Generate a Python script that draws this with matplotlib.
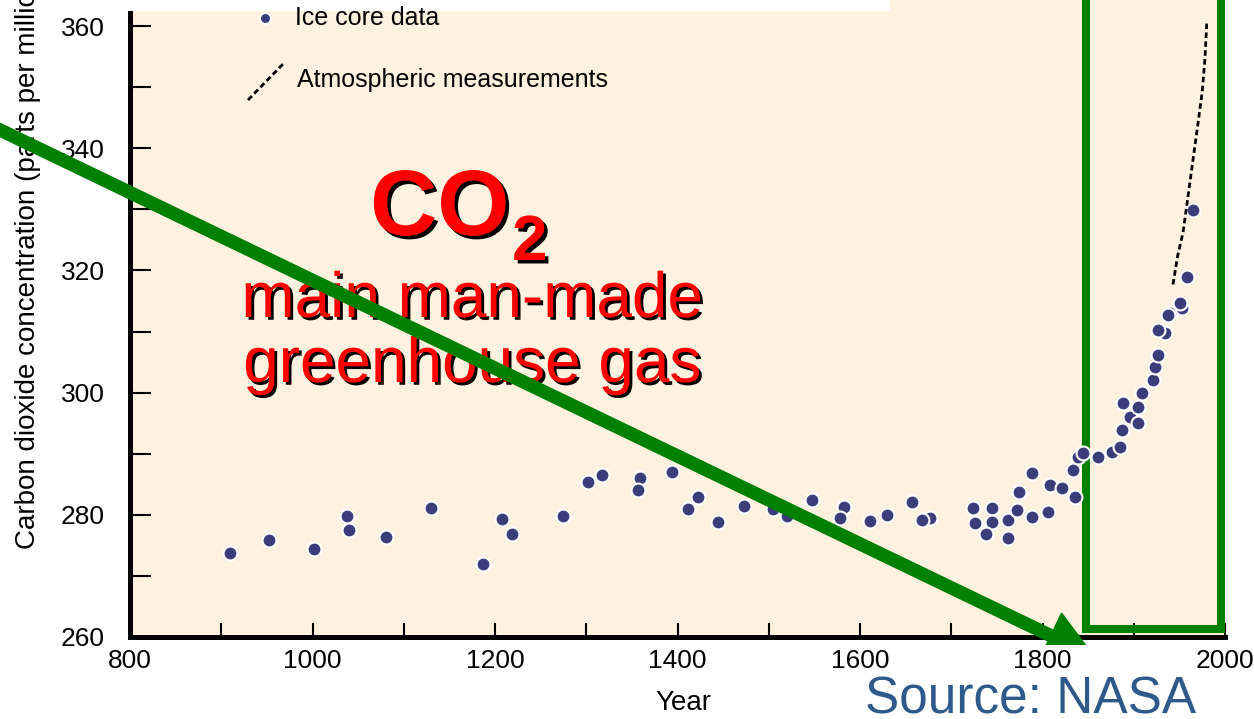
import matplotlib
matplotlib.use('Agg')
import matplotlib.pyplot as plt
from matplotlib import patheffects as pe
from matplotlib.patches import Rectangle, FancyArrow
from matplotlib.lines import Line2D
from matplotlib.transforms import Affine2D

# ice core samples (year, ppm)
ice_years = [910, 952, 1002, 1038, 1040, 1080, 1130, 1187, 1208, 1219,
             1275, 1302, 1317, 1359, 1357, 1394, 1422, 1411, 1444, 1473,
             1505, 1520, 1547, 1582, 1578, 1611, 1630, 1657, 1677, 1668,
             1724, 1726, 1745, 1745, 1738, 1762, 1762, 1772, 1774, 1788,
             1788, 1806, 1808, 1821, 1836, 1833, 1839, 1844, 1861, 1876,
             1885, 1887, 1888, 1896, 1905, 1905, 1909, 1921, 1923, 1927,
             1934, 1927, 1940, 1953, 1965, 1958, 1951, 1938]
ice_ppm = [273.7, 275.9, 274.4, 279.8, 277.5, 276.4, 281.1, 271.9, 279.3, 276.9,
           279.8, 285.4, 286.5, 286.0, 284.1, 287.0, 282.9, 280.9, 278.8, 281.4,
           280.9, 279.8, 282.4, 281.3, 279.5, 279.0, 280.0, 282.1, 279.5, 279.1,
           281.1, 278.7, 281.1, 278.8, 276.9, 279.1, 276.2, 280.8, 283.7, 286.8,
           279.6, 280.5, 284.9, 284.4, 282.9, 287.3, 289.5, 290.1, 289.5, 290.3,
           291.1, 293.9, 298.3, 296.0, 295.0, 297.6, 299.9, 302.1, 304.2, 306.2,
           309.8, 310.2, 313.0, 313.8, 329.9, 318.9, 314.7, 312.7]

# atmospheric measurements (dashed line)
atm_years = [1943, 1948, 1954, 1959, 1965, 1970, 1975, 1978, 1980]
atm_ppm = [317.7, 322.3, 326.2, 331.6, 338.2, 343.6, 349.2, 354.6, 360.5]

x_ticks = [800, 1000, 1200, 1400, 1600, 1800, 2000]
x_minor = [900, 1100, 1300, 1500, 1700, 1900]
y_ticks = [260, 280, 300, 320, 340, 360]
y_minor = [270, 290, 310, 330, 350]

plt.rcParams['font.family'] = ['Liberation Sans', 'DejaVu Sans']

W, H = 1254, 719
fig = plt.figure(figsize=(W / 100, H / 100), dpi=100)
fig.patch.set_facecolor('white')
px = Affine2D().scale(1, -1).translate(0, H)  # pixel coords, origin top-left

ax = fig.add_axes([130 / W, (H - 637) / H, 1095 / W, 637 / H])
ax.set_facecolor('#fdf2df')
ax.set_xlim(800, 2000)
ax.set_ylim(260, 260 + 637 / 6.11)
for s in ['top', 'right']:
    ax.spines[s].set_visible(False)
for s in ['left', 'bottom']:
    ax.spines[s].set_linewidth(3.6)

ax.set_xticks(x_ticks)
ax.set_xticks(x_minor, minor=True)
ax.set_yticks(y_ticks)
ax.set_yticks(y_minor, minor=True)
ax.tick_params(axis='x', which='both', direction='in', length=10, width=1.5,
               labelsize=19, pad=9)
ax.tick_params(axis='y', which='both', direction='in', length=15, width=1.5,
               labelsize=19, pad=18)

ax.plot(ice_years, ice_ppm, 'o', ms=10, mfc='#3b3d7a', mec='white', mew=1.5,
        zorder=3, clip_on=False)
ax.plot(atm_years, atm_ppm, color='black', lw=2, ls=(0, (2, 1.2)), zorder=3)

# green box around the industrial era
box = Rectangle((1086, -20), 135, 649, transform=px, fill=False,
                ec='#008000', lw=5.8, zorder=2.5, clip_on=False)
ax.add_patch(box)

# axis labels
fig.text(683, 703, 'Year', transform=px, fontsize=20, ha='center', va='center')
fig.text(28, 258, 'Carbon dioxide concentration (parts per million)', transform=px,
         fontsize=20, rotation=90, ha='center', va='center')

# legend, drawn by hand
fig.add_artist(Rectangle((126, 0), 764, 11, transform=px, fc='white', ec='none', zorder=4))
fig.add_artist(Line2D([265], [18], transform=px, marker='o', ms=8, mfc='#3b3d7a',
                      mec='white', mew=1.5, ls='none', zorder=5))
fig.add_artist(Line2D([248, 285], [100, 62], transform=px, color='black', lw=2,
                      ls=(0, (2, 1.2)), zorder=5))
fig.text(295, 18, 'Ice core data', transform=px, fontsize=18, va='center', zorder=5)
fig.text(297, 80, 'Atmospheric measurements', transform=px, fontsize=18, va='center', zorder=5)

# red title with shadow
shadow = [pe.withSimplePatchShadow(offset=(2.5, -2.5), shadow_rgbFace='black', alpha=1)]
fig.text(370, 235, 'CO', transform=px, fontsize=67, fontweight='bold', color='#ff0000',
         va='baseline', path_effects=shadow)
fig.text(512, 260, '2', transform=px, fontsize=46, fontweight='bold', color='#ff0000',
         va='baseline', path_effects=shadow)
shadow2 = [pe.withSimplePatchShadow(offset=(2, -2), shadow_rgbFace='black', alpha=1)]
fig.text(472, 317, 'main man-made', transform=px, fontsize=46, color='#ff0000',
         ha='center', va='baseline', path_effects=shadow2)
fig.text(472, 382, 'greenhouse gas', transform=px, fontsize=46, color='#ff0000',
         ha='center', va='baseline', path_effects=shadow2)

# big green arrow
arrow = FancyArrow(-30, 115.5, 1124, 541, width=12, head_width=50, head_length=48,
                   length_includes_head=True, color='#008000', transform=px, zorder=6)
arrow.set_clip_path(Rectangle((0, 0), W, 645, transform=px))
fig.add_artist(arrow)

fig.text(865, 714, 'Source: NASA', transform=px, fontsize=37, color='#2d5a8b',
         va='baseline')

fig.savefig('out.png', dpi=100)
